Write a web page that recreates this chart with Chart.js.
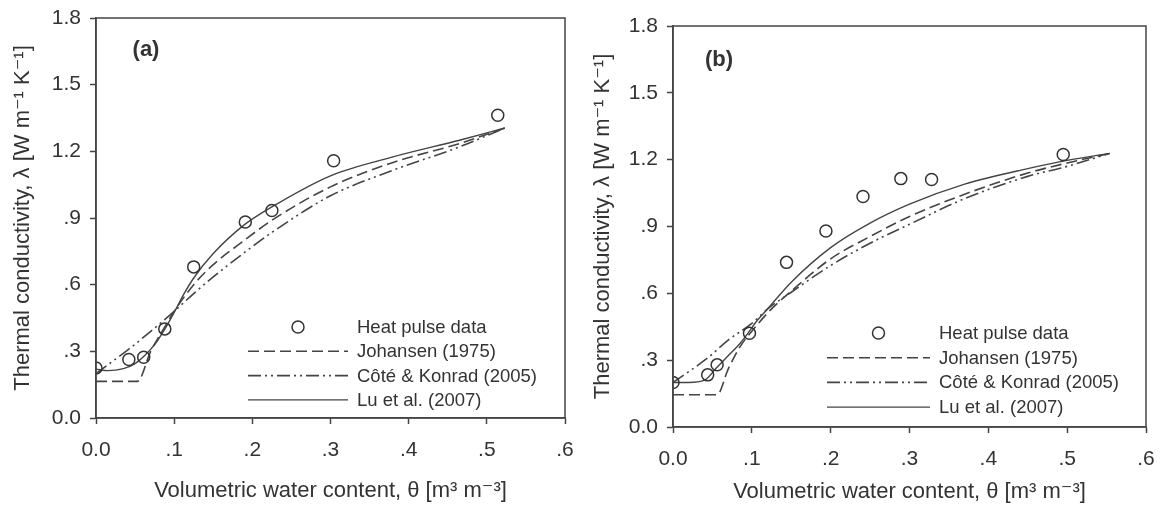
<!DOCTYPE html>
<html>
<head>
<meta charset="utf-8">
<script src="https://cdn.jsdelivr.net/npm/chart.js@4.4.1/dist/chart.umd.min.js"></script>
<style>
  body { margin: 0; background: #fff; width: 1163px; height: 505px; overflow: hidden; }
  canvas { position: absolute; top: 0; }
</style>
</head>
<body>
<canvas id="chartA" width="580" height="505" style="left:0"></canvas>
<canvas id="chartB" width="583" height="505" style="left:580px"></canvas>
<script>
// tick labels
const xTickLabels = ['0.0', '.1', '.2', '.3', '.4', '.5', '.6'];
const yTickLabels = ['0.0', '.3', '.6', '.9', '1.2', '1.5', '1.8'];
const seriesNames = ['Heat pulse data', 'Johansen (1975)', 'Côté & Konrad (2005)', 'Lu et al. (2007)'];

// panel (a) - heat pulse measurements
const thetaA = [0.0, 0.042, 0.061, 0.088, 0.125, 0.191, 0.225, 0.304, 0.514];
const lambdaA = [0.225, 0.263, 0.273, 0.401, 0.680, 0.882, 0.934, 1.158, 1.362];
// panel (a) - model curves
const johansenThetaA = [0, 0.053, 0.07, 0.088, 0.1, 0.125, 0.15, 0.19, 0.225, 0.3, 0.38, 0.465, 0.523];
const johansenA = [0.165, 0.165, 0.30, 0.41, 0.48, 0.60, 0.69, 0.80, 0.89, 1.04, 1.15, 1.235, 1.305];
const coteThetaA = [0, 0.042, 0.07, 0.1, 0.125, 0.15, 0.19, 0.225, 0.3, 0.38, 0.465, 0.523];
const coteA = [0.20, 0.31, 0.39, 0.48, 0.56, 0.635, 0.745, 0.835, 1.0, 1.115, 1.22, 1.305];
const luThetaA = [0, 0.015, 0.035, 0.05, 0.062, 0.075, 0.088, 0.1, 0.112, 0.125, 0.15, 0.19, 0.225, 0.3, 0.38, 0.465, 0.523];
const luA = [0.22, 0.213, 0.222, 0.245, 0.28, 0.33, 0.40, 0.475, 0.555, 0.63, 0.74, 0.87, 0.95, 1.09, 1.175, 1.25, 1.305];

// panel (b) - heat pulse measurements
const thetaB = [0.0, 0.044, 0.056, 0.097, 0.144, 0.194, 0.241, 0.289, 0.328, 0.495];
const lambdaB = [0.200, 0.234, 0.279, 0.421, 0.739, 0.880, 1.035, 1.115, 1.111, 1.223];
// panel (b) - model curves
const johansenThetaB = [0, 0.056, 0.07, 0.085, 0.1, 0.125, 0.15, 0.2, 0.25, 0.3, 0.37, 0.45, 0.5, 0.554];
const johansenB = [0.145, 0.145, 0.26, 0.36, 0.43, 0.53, 0.61, 0.755, 0.855, 0.945, 1.045, 1.14, 1.185, 1.228];
const coteThetaB = [0, 0.044, 0.07, 0.1, 0.12, 0.15, 0.2, 0.25, 0.3, 0.37, 0.45, 0.5, 0.554];
const coteB = [0.20, 0.31, 0.39, 0.465, 0.53, 0.605, 0.725, 0.825, 0.91, 1.025, 1.125, 1.17, 1.228];
const luThetaB = [0, 0.02, 0.04, 0.055, 0.07, 0.085, 0.097, 0.105, 0.12, 0.15, 0.2, 0.25, 0.3, 0.37, 0.45, 0.5, 0.554];
const luB = [0.20, 0.20, 0.21, 0.265, 0.32, 0.375, 0.43, 0.47, 0.53, 0.65, 0.805, 0.915, 1.0, 1.09, 1.16, 1.197, 1.228];

const FONT = "'Liberation Sans', Arial, 'DejaVu Sans', sans-serif";
const INK = '#333';
const LINE = '#444';

const pts = (xs, ys) => xs.map((x, i) => ({ x, y: ys[i] }));

// frame box, panel letter and legend inside the plot
const panelDecor = {
  id: 'panelDecor',
  afterDatasetsDraw(chart, args, o) {
    const { ctx, chartArea: a } = chart;
    ctx.save();
    ctx.strokeStyle = LINE;
    ctx.lineWidth = 1.5;
    ctx.strokeRect(a.left, a.top, a.right - a.left, a.bottom - a.top);

    ctx.fillStyle = INK;
    ctx.font = 'bold 22px ' + FONT;
    ctx.textAlign = 'center';
    ctx.textBaseline = 'middle';
    ctx.fillText(o.tag, o.tagX, o.tagY);

    ctx.font = '18.5px ' + FONT;
    ctx.textAlign = 'left';
    chart.data.datasets.forEach((ds, i) => {
      const y = o.legY + i * o.legGap;
      const x0 = o.legX, x1 = o.legX + o.legLen;
      ctx.strokeStyle = ds.borderColor;
      ctx.lineWidth = ds.borderWidth;
      if (ds.showLine) {
        ctx.setLineDash(ds.borderDash || []);
        ctx.beginPath();
        ctx.moveTo(x0, y);
        ctx.lineTo(x1, y);
        ctx.stroke();
        ctx.setLineDash([]);
      } else {
        ctx.beginPath();
        ctx.arc((x0 + x1) / 2, y, ds.pointRadius, 0, Math.PI * 2);
        ctx.stroke();
      }
      ctx.fillText(ds.label, x1 + 9, y + 1);
    });
    ctx.restore();
  }
};

function makeChart(id, d, cfg) {
  return new Chart(document.getElementById(id), {
    type: 'scatter',
    data: {
      datasets: [
        { label: seriesNames[0], data: pts(d.theta, d.lambda), showLine: false, pointRadius: 6,
          pointBorderWidth: 1.5, borderColor: INK, backgroundColor: 'rgba(0,0,0,0)', borderWidth: 1.5 },
        { label: seriesNames[1], data: pts(d.jT, d.jL), showLine: true, pointRadius: 0, borderColor: LINE,
          borderWidth: 1.6, borderDash: [11, 5], cubicInterpolationMode: 'monotone' },
        { label: seriesNames[2], data: pts(d.cT, d.cL), showLine: true, pointRadius: 0, borderColor: LINE,
          borderWidth: 1.6, borderDash: [13, 4, 2, 4, 2, 4], cubicInterpolationMode: 'monotone' },
        { label: seriesNames[3], data: pts(d.lT, d.lL), showLine: true, pointRadius: 0, borderColor: LINE,
          borderWidth: 1.4, cubicInterpolationMode: 'monotone' }
      ]
    },
    options: {
      responsive: false,
      animation: false,
      layout: { padding: { left: 0, top: cfg.top, right: cfg.right, bottom: 0 } },
      plugins: {
        legend: { display: false },
        tooltip: { enabled: false },
        panelDecor: cfg.decor
      },
      scales: {
        x: {
          type: 'linear', min: 0, max: 0.6,
          ticks: { stepSize: 0.1, callback: (v, i) => xTickLabels[i], color: INK, padding: 14,
                   font: { family: FONT, size: 21 } },
          grid: { drawOnChartArea: false, tickLength: 6, tickColor: LINE, tickWidth: 1.5 },
          border: { color: LINE, width: 1.5 },
          title: { display: true, text: 'Volumetric water content, θ [m³ m⁻³]', color: INK,
                   font: { family: FONT, size: 22 }, padding: { top: 0, bottom: cfg.xTitlePad } },
          afterFit: s => { s.height = cfg.xAxisH; s.paddingLeft = 0; s.paddingRight = 0; }
        },
        y: {
          type: 'linear', min: 0, max: 1.8,
          ticks: { stepSize: 0.3, callback: (v, i) => yTickLabels[i], color: INK, padding: 9,
                   font: { family: FONT, size: 21 } },
          grid: { drawOnChartArea: false, tickLength: 6, tickColor: LINE, tickWidth: 1.5 },
          border: { color: LINE, width: 1.5 },
          title: { display: true, text: 'Thermal conductivity, λ [W m⁻¹ K⁻¹]', color: INK,
                   font: { family: FONT, size: 22 }, padding: { top: 10, bottom: 0 } },
          afterFit: s => { s.width = cfg.yAxisW; s.paddingTop = 0; s.paddingBottom = 0; }
        }
      }
    },
    plugins: [panelDecor]
  });
}

makeChart('chartA',
  { theta: thetaA, lambda: lambdaA, jT: johansenThetaA, jL: johansenA, cT: coteThetaA, cL: coteA, lT: luThetaA, lL: luA },
  { top: 18, right: 15, xAxisH: 87, yAxisW: 96, xTitlePad: 1,
    decor: { tag: '(a)', tagX: 146, tagY: 50, legX: 248, legLen: 100, legY: 327, legGap: 24.3 } });

makeChart('chartB',
  { theta: thetaB, lambda: lambdaB, jT: johansenThetaB, jL: johansenB, cT: coteThetaB, cL: coteB, lT: luThetaB, lL: luB },
  { top: 26, right: 17, xAxisH: 78, yAxisW: 93, xTitlePad: 0,
    decor: { tag: '(b)', tagX: 139, tagY: 60, legX: 247, legLen: 103, legY: 333, legGap: 24.7 } });
</script>
</body>
</html>
